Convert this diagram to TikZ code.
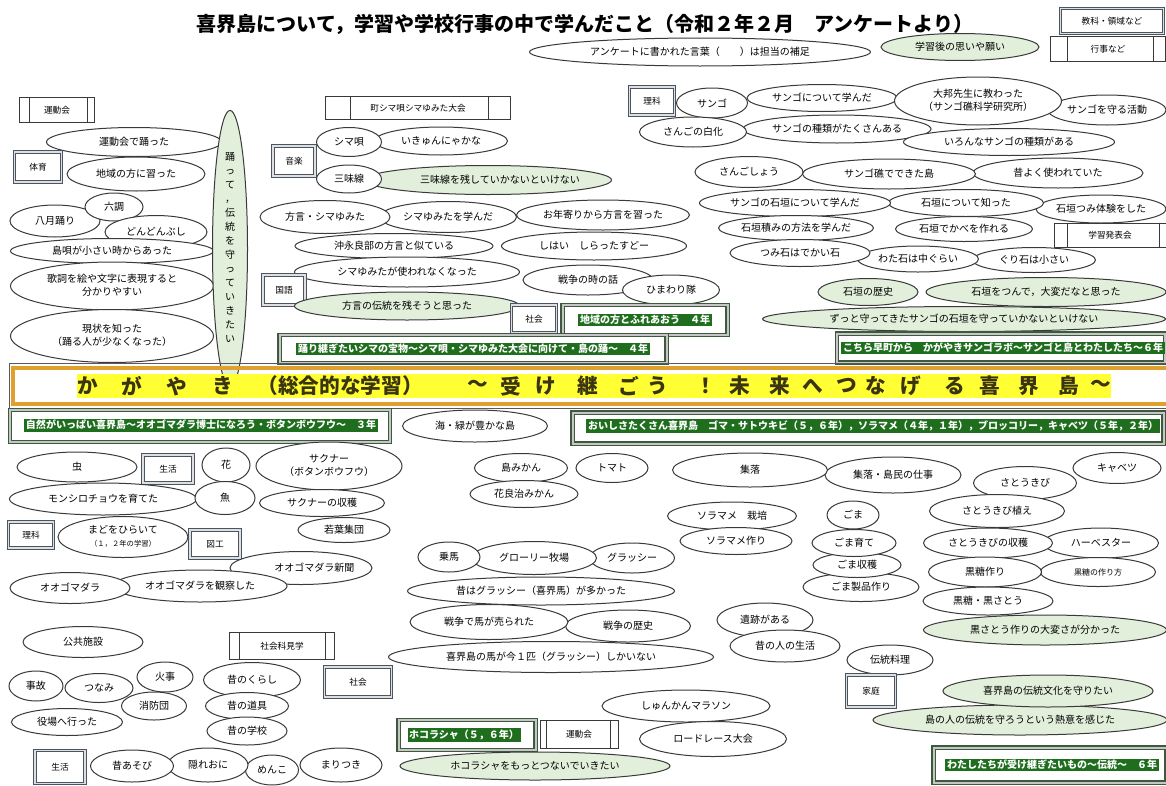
\documentclass[tikz,border=0pt]{standalone}
\usepackage{fontspec}
\setmainfont{Noto Sans CJK JP}
\usetikzlibrary{shapes.geometric}
\definecolor{eline}{HTML}{3A3A3A}
\definecolor{lgreen}{HTML}{E2EFDA}
\definecolor{dgreen}{HTML}{1E6E1E}
\definecolor{gframe}{HTML}{3D5A3D}
\definecolor{bframe}{HTML}{4A5563}
\definecolor{orng}{HTML}{E0A030}
\definecolor{yel}{HTML}{FFFF33}
\definecolor{btext}{HTML}{3A3410}
\newcommand{\mk}[1]{\makebox[0pt]{#1}}
\newcommand{\mkk}[2]{\makebox[0pt]{\begin{tabular}{@{}c@{}}#1\\#2\end{tabular}}}
\newcommand{\sidebars}[3]{\draw[eline,line width=0.7pt] ([xshift=#2]#1.north west) -- ([xshift=#2]#1.south west) ([xshift=-#3]#1.north east) -- ([xshift=-#3]#1.south east);}
\tikzset{
 wh/.style 2 args={minimum width=#1*0.75pt, minimum height=#2*0.75pt},
 el/.style={ellipse, draw=eline, line width=0.75pt, fill=white, inner sep=0pt, font=\fontsize{7.5}{10}\selectfont},
 gel/.style={el, fill=lgreen},
 kbox/.style={rectangle, draw=bframe, double=gray!25, double distance=1.2pt, line width=0.7pt, fill=white, inner sep=0pt, font=\fontsize{6.5}{8}\selectfont},
 gbox/.style={rectangle, draw=gframe, double=gray!45, double distance=1.5pt, line width=0.9pt, fill=white, inner sep=0pt},
 sbox/.style={rectangle, draw=eline, line width=0.7pt, fill=white, inner sep=0pt, font=\fontsize{6.5}{8}\selectfont},
 hl/.style={fill=dgreen, text=white, inner sep=1.2pt, font=\fontsize{7.5}{9}\selectfont\bfseries},
 btxt/.style={text=btext, inner sep=0pt, font=\fontsize{15.5}{18}\selectfont\bfseries},
}
\begin{document}
\begin{tikzpicture}[x=0.75pt,y=-0.75pt]
\useasboundingbox (0,0) rectangle (1166,785);
\clip (0,0) rectangle (1166,785);
\fill[white] (0,0) rectangle (1166,785);

% title and legend
\node[font=\fontsize{15}{18}\selectfont\bfseries] (title) at (585,24) {喜界島について，学習や学校行事の中で学んだこと（令和２年２月　アンケートより）};
\node[kbox, wh={103}{25}] (lg1) at (1112,21) {教科・領域など};
\node[sbox, wh={115}{25}] (lg2) at (1108,49) {行事など};
\sidebars{lg2}{12.75pt}{9.75pt}
\node[gel, wh={158}{27}] (lg3) at (960,47) {\mk{学習後の思いや願い}};
\node[el, wh={341}{28}] (lg4) at (700,52) {\mk{アンケートに書かれた言葉（　　）は担当の補足}};

% top left
\node[sbox, wh={75}{25}] (k1) at (57,110) {運動会};
\sidebars{k1}{7.5pt}{6pt}
\node[el, wh={175}{29}] (a1) at (134,142) {\mk{運動会で踊った}};
\node[kbox, wh={47}{30}] (k2) at (38,167) {体育};
\node[el, wh={138}{34}] (a2) at (136,174) {\mk{地域の方に習った}};
\node[el, wh={90}{32}] (a3) at (55,221) {\mk{八月踊り}};
\node[el, wh={58}{28}] (a4) at (114,207) {\mk{六調}};
\node[el, wh={102}{33}] (a5) at (156,232) {\mk{どんどんぶし}};
\node[el, wh={203}{25}] (a6) at (112,251) {\mk{島唄が小さい時からあった}};
\node[el, wh={203}{48}] (a7) at (112,286) {\mkk{歌詞を絵や文字に表現すると}{分かりやすい}};
\node[el, wh={203}{53}] (a8) at (112,336) {\mkk{現状を知った}{（踊る人が少なくなった）}};
\node[gel, wh={35}{212}] (a9) at (230,249) {\mk{\fontsize{7.5}{10.5}\selectfont\begin{tabular}{@{}c@{}}踊\\っ\\て\\，\\伝\\統\\を\\守\\っ\\て\\い\\き\\た\\い\end{tabular}}};

% top middle
\node[sbox, wh={185}{23}] (k3) at (418,108) {町シマ唄シマゆみた大会};
\sidebars{k3}{18.75pt}{17.25pt}
\node[kbox, wh={42}{30}] (k4) at (294,161) {音楽};
\node[el, wh={133}{28}] (b1) at (441,141) {\mk{いきゅんにゃかな}};
\node[el, wh={65}{29}] (b2) at (349,142) {\mk{シマ唄}};
\node[gel, wh={247}{29}] (b3) at (488,180) {\hspace*{18pt}\mk{三味線を残していかないといけない}};
\node[el, wh={65}{28}] (b4) at (349,179) {\mk{三味線}};
\node[el, wh={173}{30}] (b5) at (603,215) {\mk{お年寄りから方言を習った}};
\node[el, wh={137}{31}] (b6) at (448,217) {\mk{シマゆみたを学んだ}};
\node[el, wh={130}{33}] (b7) at (325,217) {\mk{方言・シマゆみた}};
\node[el, wh={198}{25}] (b8) at (394,246) {\mk{沖永良部の方言と似ている}};
\node[el, wh={185}{28}] (b9) at (594,246) {\mk{しはい　しらったすどー}};
\node[el, wh={225}{30}] (b10) at (407,272) {\mk{シマゆみたが使われなくなった}};
\node[el, wh={130}{30}] (b11) at (588,280) {\mk{戦争の時の話}};
\node[el, wh={97}{30}] (b12) at (671,290) {\mk{ひまわり隊}};
\node[kbox, wh={42}{30}] (k5) at (284,290) {国語};
\node[gel, wh={225}{28}] (b13) at (407,306) {\mk{方言の伝統を残そうと思った}};
\node[kbox, wh={45}{28}] (k6) at (534,319) {社会};
\node[gbox, wh={165}{30}] (g1) at (645,320) {};
\node[hl] (h1) at (645,320) {地域の方とふれあおう　４年};
\node[gbox, wh={387}{28}] (g2) at (473,349) {};
\node[hl] (h2) at (473,349) {踊り継ぎたいシマの宝物～シマ唄・シマゆみた大会に向けて・島の踊～　４年};

% top right
\node[kbox, wh={45}{28}] (k7) at (652,101) {理科};
\node[el, wh={150}{27}] (c1) at (822,98) {\mk{サンゴについて学んだ}};
\node[el, wh={71}{30}] (c2) at (712,103) {\mk{サンゴ}};
\node[el, wh={188}{28}] (c3) at (837,129) {\mk{サンゴの種類がたくさんある}};
\node[el, wh={107}{30}] (c4) at (693,132) {\mk{さんごの白化}};
\node[el, wh={118}{30}] (c5) at (1107,110) {\mk{サンゴを守る活動}};
\node[el, wh={211}{27}] (c6) at (1009,142) {\mk{いろんなサンゴの種類がある}};
\node[el, wh={167}{48}] (c7) at (978,101) {\mkk{大邦先生に教わった}{（サンゴ礁科学研究所）}};
\node[el, wh={170}{30}] (c8) at (1058,173) {\mk{昔よく使われていた}};
\node[el, wh={173}{30}] (c9) at (889,174) {\mk{サンゴ礁でできた島}};
\node[el, wh={108}{31}] (c10) at (749,172) {\mk{さんごしょう}};
\node[el, wh={130}{28}] (c11) at (1101,209) {\mk{石垣つみ体験をした}};
\node[el, wh={155}{27}] (c12) at (966,203) {\mk{石垣について知った}};
\node[el, wh={191}{27}] (c13) at (795,203) {\mk{サンゴの石垣について学んだ}};
\node[el, wh={137}{25}] (c14) at (964,229) {\mk{石垣でかべを作れる}};
\node[el, wh={155}{25}] (c15) at (796,228) {\mk{石垣積みの方法を学んだ}};
\node[sbox, wh={112}{24}] (k8) at (1110,235) {学習発表会};
\sidebars{k8}{10.5pt}{5.25pt}
\node[el, wh={123}{25}] (c16) at (1034,260) {\mk{ぐり石は小さい}};
\node[el, wh={121}{26}] (c17) at (918,259) {\mk{わた石は中ぐらい}};
\node[el, wh={140}{27}] (c18) at (800,253) {\mk{つみ石はでかい石}};
\node[gel, wh={240}{29}] (c19) at (1046,292) {\mk{石垣をつんで，大変だなと思った}};
\node[gel, wh={100}{27}] (c20) at (868,292) {\mk{石垣の歴史}};
\node[gel, wh={403}{25}] (c21) at (964,319) {\mk{ずっと守ってきたサンゴの石垣を守っていかないといけない}};
\node[gbox, wh={328}{29}] (g3) at (1001,348) {};
\node[hl] (h3) at (1003,348) {こちら早町から　かがやきサンゴラボ～サンゴと島とわたしたち～６年};

% central band
\draw[gray!70!black, line width=0.6pt] (9,363) rectangle (1180,408);
\draw[orng, line width=3pt] (13,367.5) rectangle (1180,403.5);
\fill[yel] (77,374) rectangle (1111,398);
\foreach \x/\c [count=\i] in {88/か,132/が,177/や,223/き,340/（総合的な学習）,478/～,511/受,546/け,588/継,629/ご,658/う,706/！,740/未,780/来,813/へ,847/つ,876/な,911/げ,955/る,990/喜,1029/界,1069/島,1101/～}
  \node[btxt] (bd\i) at (\x,386) {\c};

% below band
\node[gbox, wh={380}{32}] (g4) at (200,426) {};
\node[hl] (h4) at (201,425) {自然がいっぱい喜界島～オオゴマダラ博士になろう・ボタンボウフウ～　３年};
\node[el, wh={145}{32}] (d0) at (475,426) {\mk{海・緑が豊かな島}};
\node[gbox, wh={591}{31}] (g5) at (868,428) {};
\node[hl] (h5) at (873,426) {おいしさたくさん喜界島　ゴマ・サトウキビ（５，６年），ソラマメ（４年，１年），ブロッコリー，キャベツ（５年，２年）};

% lower left
\node[el, wh={120}{30}] (d1) at (77,467) {\mk{虫}};
\node[kbox, wh={50}{28}] (k9) at (168,469) {生活};
\node[el, wh={48}{34}] (d2) at (226,465) {\mk{花}};
\node[el, wh={146}{48}] (d3) at (329,466) {\mkk{サクナー}{（ボタンボウフウ）}};
\node[el, wh={187}{32}] (d4) at (103,499) {\mk{モンシロチョウを育てた}};
\node[el, wh={60}{33}] (d5) at (225,498) {\mk{魚}};
\node[el, wh={125}{27}] (d6) at (322,503) {\mk{サクナーの収穫}};
\node[el, wh={92}{25}] (d7) at (344,530) {\mk{若葉集団}};
\node[kbox, wh={45}{26}] (k10) at (31,535) {理科};
\node[el, wh={130}{41}] (d8) at (123,537) {\mkk{まどをひらいて}{\fontsize{5.5}{7}\selectfont （１，２年の学習）}};
\node[kbox, wh={50}{28}] (k11) at (215,544) {図工};
\node[el, wh={142}{33}] (d9) at (301,568) {\hspace*{20pt}\mk{オオゴマダラ新聞}};
\node[el, wh={174}{32}] (d10) at (200,586) {\mk{オオゴマダラを観察した}};
\node[el, wh={120}{31}] (d11) at (70,588) {\mk{オオゴマダラ}};
\node[el, wh={120}{31}] (d12) at (83,642) {\mk{公共施設}};
\node[sbox, wh={105}{27}] (k12) at (282,646) {社会科見学};
\sidebars{k12}{7.5pt}{7.5pt}
\node[el, wh={54}{30}] (d13) at (36,686) {\mk{事故}};
\node[el, wh={68}{29}] (d14) at (99,688) {\mk{つなみ}};
\node[el, wh={56}{30}] (d15) at (165,677) {\mk{火事}};
\node[el, wh={65}{28}] (d16) at (154,706) {\mk{消防団}};
\node[el, wh={111}{27}] (d17) at (67,722) {\mk{役場へ行った}};
\node[el, wh={97}{35}] (d18) at (252,680) {\mk{昔のくらし}};
\node[el, wh={83}{27}] (d19) at (247,706) {\mk{昔の道具}};
\node[el, wh={80}{28}] (d20) at (247,731) {\mk{昔の学校}};
\node[kbox, wh={67}{30}] (k13) at (358,682) {社会};
\node[kbox, wh={50}{33}] (k14) at (60,767) {生活};
\node[el, wh={82}{34}] (d24) at (341,765) {\mk{まりつき}};
\node[el, wh={53}{30}] (d23) at (272,770) {\mk{めんこ}};
\node[el, wh={80}{34}] (d22) at (208,765) {\mk{隠れおに}};
\node[el, wh={83}{32}] (d21) at (132,766) {\mk{昔あそび}};

% lower middle
\node[el, wh={93}{29}] (e1) at (521,468) {\mk{島みかん}};
\node[el, wh={72}{29}] (e2) at (612,468) {\mk{トマト}};
\node[el, wh={108}{27}] (e3) at (524,494) {\mk{花良治みかん}};
\node[el, wh={85}{30}] (e4) at (632,558) {\mk{グラッシー}};
\node[el, wh={125}{33}] (e5) at (534,558) {\mk{グローリー牧場}};
\node[el, wh={62}{30}] (e6) at (449,557) {\mk{乗馬}};
\node[el, wh={267}{28}] (e7) at (541,591) {\mk{昔はグラッシー（喜界馬）が多かった}};
\node[el, wh={125}{32}] (e8) at (628,626) {\mk{戦争の歴史}};
\node[el, wh={158}{35}] (e9) at (489,622) {\mk{戦争で馬が売られた}};
\node[el, wh={325}{31}] (e10) at (551,657) {\mk{喜界島の馬が今１匹（グラッシー）しかいない}};
\node[el, wh={168}{32}] (e11) at (686,706) {\mk{しゅんかんマラソン}};
\node[el, wh={147}{35}] (e12) at (713,739) {\mk{ロードレース大会}};
\node[gbox, wh={137}{30}] (g6) at (467,735) {};
\node[hl] (h6) at (464,735) {ホコラシャ（５，６年）};
\node[sbox, wh={78}{28}] (k15) at (579,734) {運動会};
\sidebars{k15}{5.25pt}{6pt}
\node[gel, wh={270}{28}] (e13) at (535,766) {\mk{ホコラシャをもっとつないでいきたい}};

% lower right
\node[el, wh={136}{36}] (f2) at (893,475) {\mk{集落・島民の仕事}};
\node[el, wh={155}{34}] (f1) at (750,470) {\mk{集落}};
\node[el, wh={88}{31}] (f3) at (1117,468) {\mk{キャベツ}};
\node[el, wh={103}{33}] (f4) at (1025,483) {\mk{さとうきび}};
\node[el, wh={135}{33}] (f5) at (997,511) {\mk{さとうきび植え}};
\node[el, wh={129}{28}] (f6) at (732,516) {\mk{ソラマメ　栽培}};
\node[el, wh={112}{27}] (f7) at (736,541) {\mk{ソラマメ作り}};
\node[el, wh={52}{28}] (f8) at (853,515) {\mk{ごま}};
\node[el, wh={116}{29}] (f11) at (861,587) {\mk{ごま製品作り}};
\node[el, wh={88}{25}] (f10) at (857,565) {\mk{ごま収穫}};
\node[el, wh={84}{27}] (f9) at (854,543) {\mk{ごま育て}};
\node[el, wh={115}{30}] (f13) at (1101,543) {\mk{ハーベスター}};
\node[el, wh={129}{30}] (f12) at (988,543) {\mk{さとうきびの収穫}};
\node[el, wh={115}{29}] (f15) at (1098,572) {\mk{\fontsize{6}{7}\selectfont 黒糖の作り方}};
\node[el, wh={113}{30}] (f14) at (985,572) {\mk{黒糖作り}};
\node[el, wh={130}{28}] (f16) at (988,601) {\mk{黒糖・黒さとう}};
\node[gel, wh={243}{30}] (f17) at (1045,630) {\mk{黒さとう作りの大変さが分かった}};
\node[el, wh={96}{34}] (f18) at (765,620) {\mk{遺跡がある}};
\node[el, wh={110}{32}] (f19) at (785,646) {\mk{昔の人の生活}};
\node[el, wh={86}{30}] (f20) at (890,660) {\mk{伝統料理}};
\node[kbox, wh={49}{32}] (k16) at (871,691) {家庭};
\node[gel, wh={294}{30}] (f22) at (1020,720) {\mk{島の人の伝統を守ろうという熱意を感じた}};
\node[gel, wh={210}{32}] (f21) at (1048,691) {\mk{喜界島の伝統文化を守りたい}};
\node[gbox, wh={233}{35}] (g7) at (1050,765) {};
\node[hl] (h7) at (1052,765) {わたしたちが受け継ぎたいもの～伝統～　６年};
\end{tikzpicture}
\end{document}
